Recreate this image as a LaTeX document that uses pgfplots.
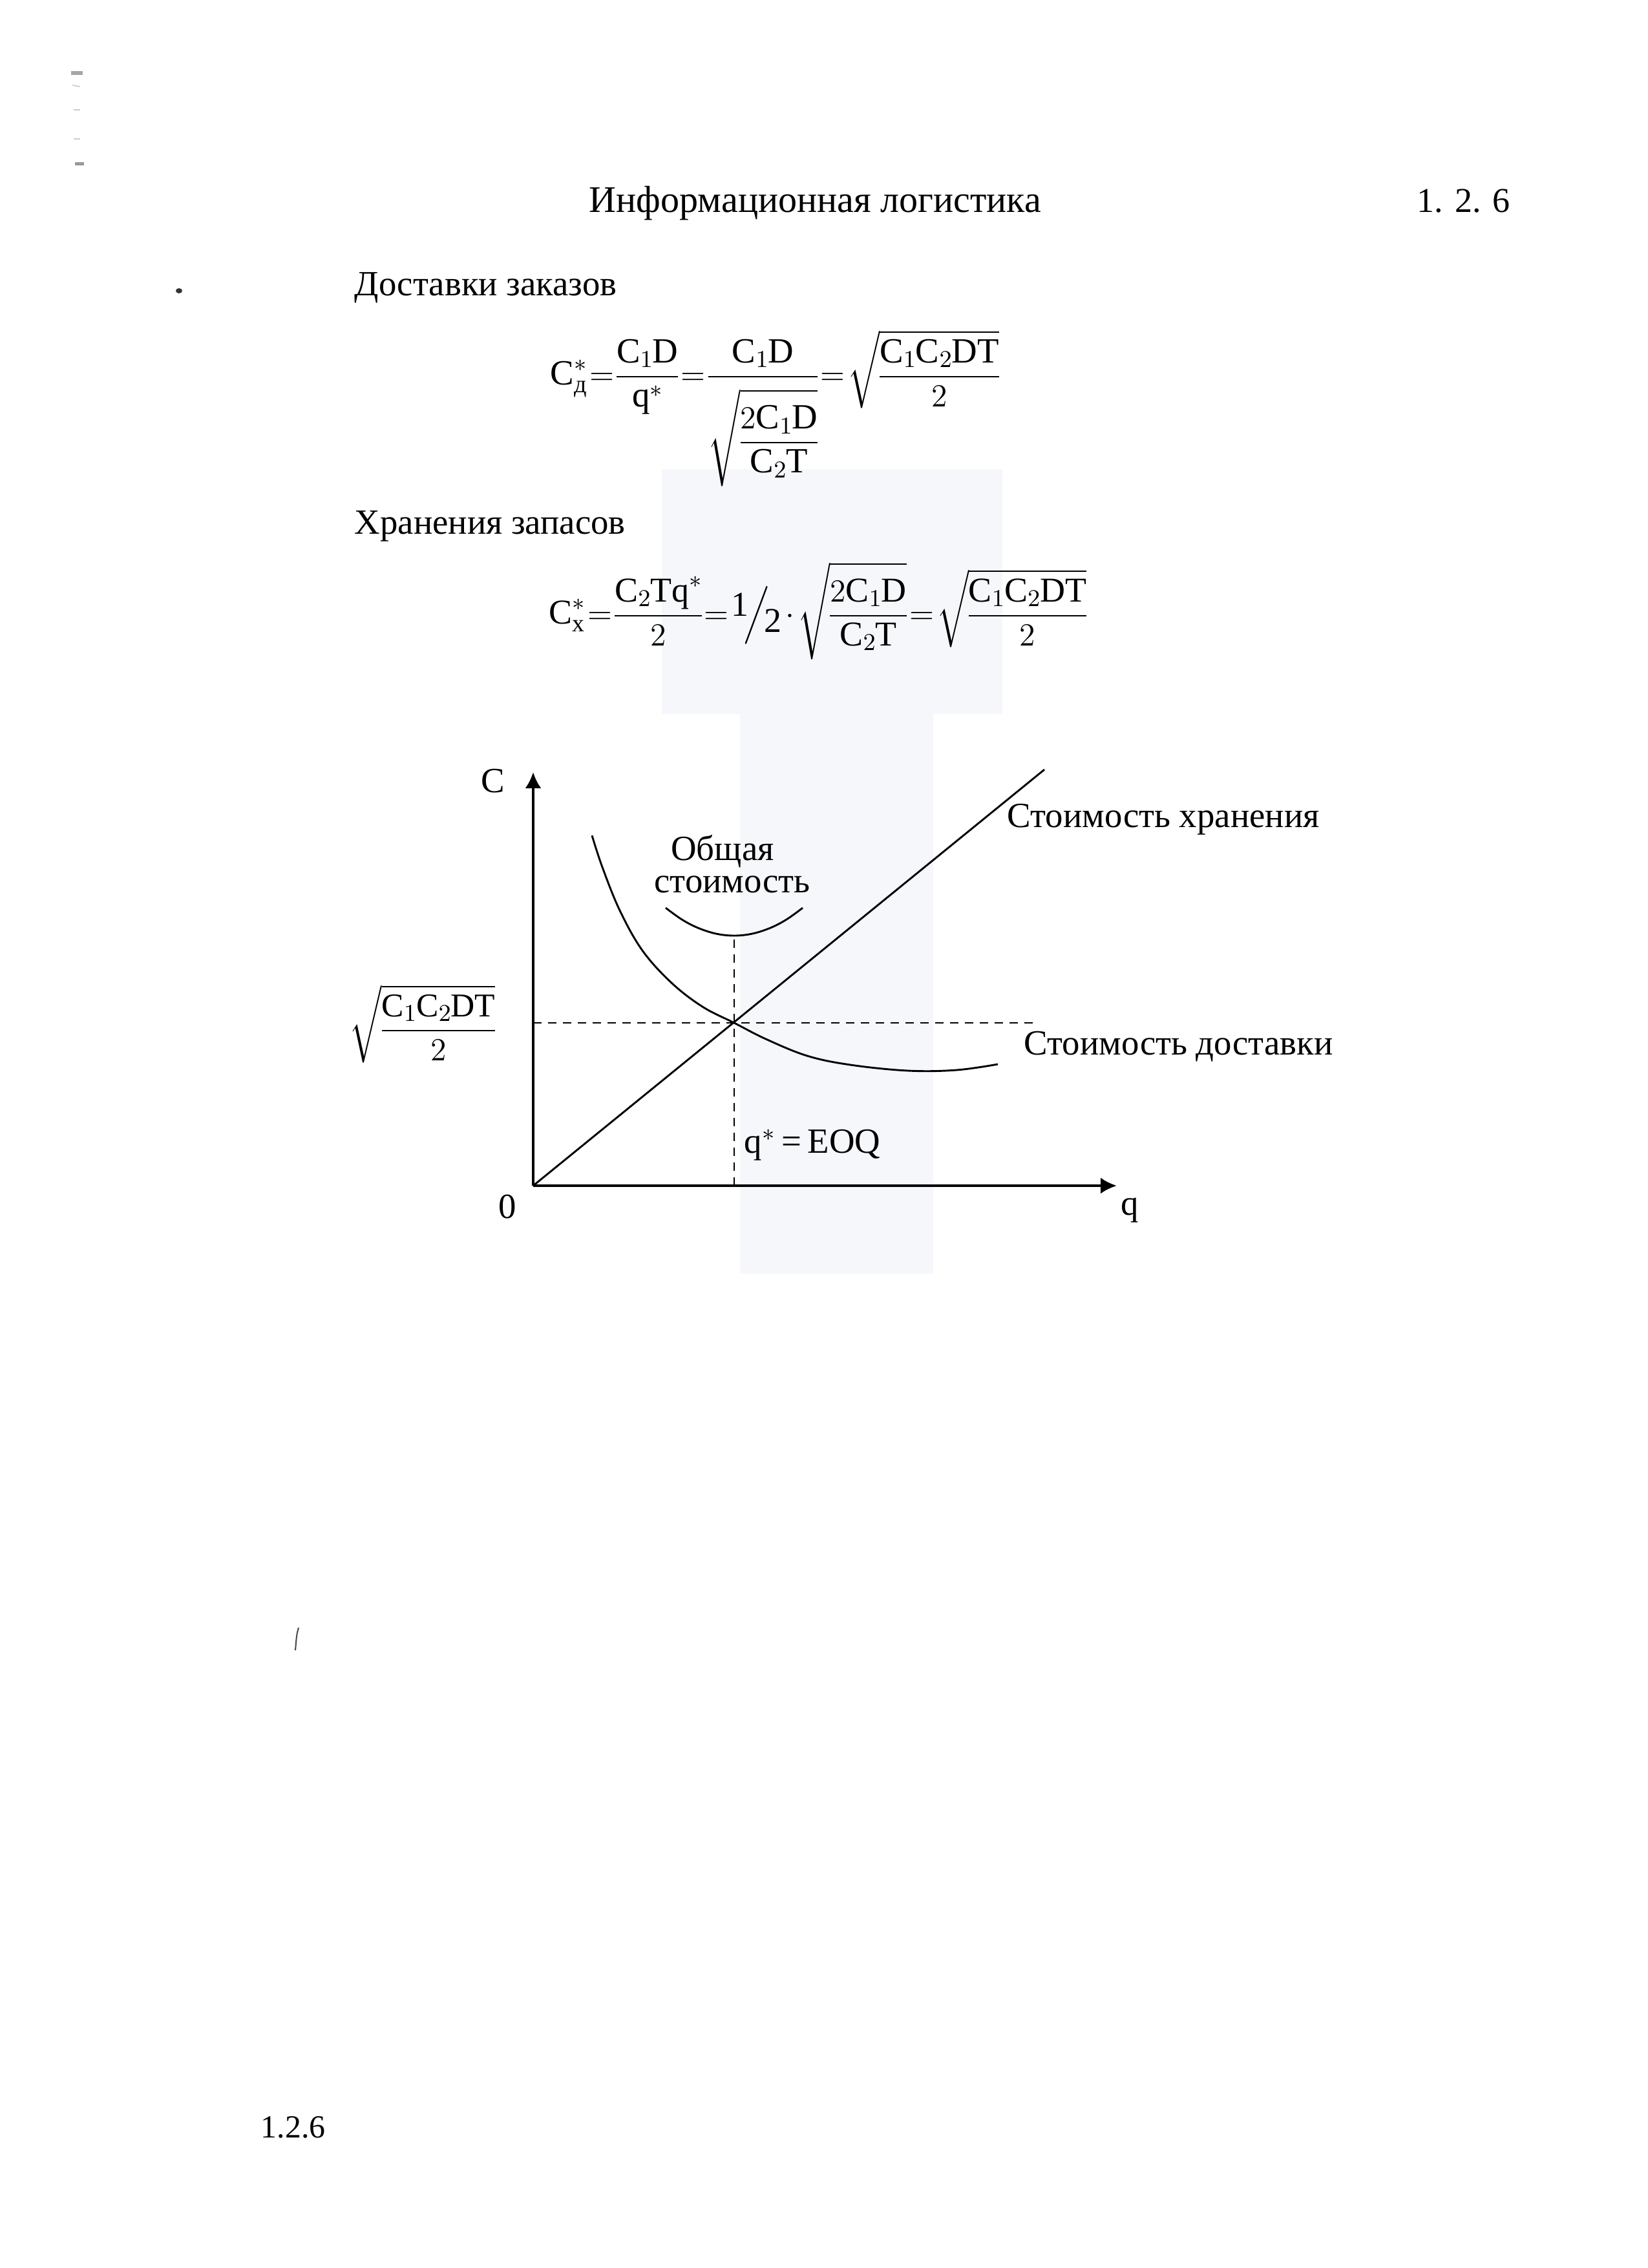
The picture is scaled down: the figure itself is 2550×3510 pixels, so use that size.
\documentclass[border=0pt]{standalone}
\usepackage{amsmath}
\usepackage{fontspec}
\setmainfont{Liberation Serif}
\usepackage{pgfplots}
\pgfplotsset{compat=1.18}
\usetikzlibrary{arrows.meta}
\definecolor{scanbg}{RGB}{246,247,251}
\newcommand{\R}[1]{\mathrm{#1}}
\newcommand{\fs}{\fontsize{13.2}{16}\selectfont}
\newcommand{\tight}{\thickmuskip=1.5mu\medmuskip=2mu\nulldelimiterspace=0pt\scriptspace=0pt}
\begin{document}
\begin{tikzpicture}[x=0.0846667mm, y=-0.0846667mm]
\path[fill=white] (0,0) rectangle (2550,3510);
% faint scan shading
\fill[scanbg] (1024,726) rectangle (1551,1105);
\fill[scanbg] (1145,1105) rectangle (1444,1971);
% scan marks
\fill[gray!70] (110,110) rectangle (128,116);
\draw[gray!40, line width=0.4pt] (112,132) -- (124,134);
\draw[gray!40, line width=0.4pt] (114,170) -- (124,170);
\draw[gray!40, line width=0.4pt] (114,215) -- (124,215);
\fill[gray!80] (116,251) rectangle (130,256);
\fill[black!80] (277,450) ellipse (5 and 4);
\draw[black!70, line width=0.5pt] (462,2519) .. controls (459,2530) .. (457,2554);
% header
\node[anchor=base west, inner sep=0, font=\fontsize{14}{17}\selectfont] at (911,328) {Информационная логистика};
\node[anchor=base west, inner sep=0, font=\fontsize{13}{16}\selectfont] at (2192,328) {1. 2. 6};
\node[anchor=base west, inner sep=0, font=\fs] at (548,457) {Доставки заказов};
\node[anchor=base west, inner sep=0, font=\fs] at (548,826) {Хранения запасов};
% formula 1
\node[anchor=base west, inner sep=0, font=\fs] at (851,595) {$\tight\displaystyle
 \R{C}^{*}_{\text{д}}=\frac{\R{C}_{1}\R{D}}{\R{q}^{*}}=\frac{\R{C}_{1}\R{D}}{\raisebox{-3pt}[\height][\depth]{$\tight\displaystyle\sqrt{\frac{2\R{C}_{1}\R{D}}{\R{C}_{2}\R{T}}}$}}=\sqrt{\frac{\R{C}_{1}\R{C}_{2}\R{DT}}{2}}$};
% formula 2
\node[anchor=base west, inner sep=0, font=\fontsize{13}{16}\selectfont] at (849,965) {$\tight\displaystyle
 \R{C}^{*}_{\text{х}}=\frac{\R{C}_{2}\R{Tq}^{*}}{2}=\mbox{\raisebox{0.45ex}{1}}\!\Big/\!\mbox{\raisebox{-0.55ex}{2}}\cdot\sqrt{\frac{2\R{C}_{1}\R{D}}{\R{C}_{2}\R{T}}}=\sqrt{\frac{\R{C}_{1}\R{C}_{2}\R{DT}}{2}}$};
% chart
\coordinate (O) at (825,1835);
\begin{axis}[
  at={(O)}, anchor=south west,
  x=0.0846667mm, y=0.0846667mm,
  xmin=0, xmax=903, ymin=0, ymax=640,
  axis lines=left,
  axis line style={line width=0.95pt, -{Latex[length=2.1mm,width=2.1mm]}},
  xtick=\empty, ytick=\empty,
  clip=false,
]
\addplot[black, line width=0.7pt] coordinates {(0,0) (791,644)};
\addplot[black, line width=0.7pt, smooth, tension=0.6] coordinates {
 (91,542) (107,493) (134,426) (169,364) (214,314) (262,277) (311,252)
 (360,227) (424,201) (491,187) (580,178) (655,179) (719,188)};
\addplot[black, line width=0.7pt, smooth, tension=0.6] coordinates {
 (205,430) (230,412) (255,399) (283,390) (311,387) (339,390) (367,399) (392,412) (417,430)};
\addplot[black, line width=0.6pt, dash pattern=on 1.1mm off 0.85mm] coordinates {(0,252) (779,252)};
\addplot[black, line width=0.6pt, dash pattern=on 1.1mm off 0.85mm] coordinates {(311,0) (311,387)};
\end{axis}
% chart labels
\node[anchor=base west, inner sep=0, font=\fs] at (744,1226) {C};
\node[anchor=base west, inner sep=0, font=\fs] at (771,1885) {0};
\node[anchor=base west, inner sep=0, font=\fs] at (1734,1880) {q};
\node[anchor=base, inner sep=0, font=\fs] at (1118,1331) {Общая};
\node[anchor=base, inner sep=0, font=\fs] at (1133,1381) {стоимость};
\node[anchor=base west, inner sep=0, font=\fs] at (1558,1280) {Стоимость хранения};
\node[anchor=base west, inner sep=0, font=\fs] at (1584,1632) {Стоимость доставки};
\node[anchor=base west, inner sep=0, font=\fs] at (1151,1784) {q$^{*}$\,=\,EOQ};
\node[anchor=base west, inner sep=0, font=\fontsize{12.4}{15}\selectfont] at (540,1607) {$\tight\displaystyle\sqrt{\frac{\R{C}_{1}\R{C}_{2}\R{DT}}{2}}$};
% footer
\node[anchor=base west, inner sep=0, font=\fontsize{12}{14}\selectfont] at (403,3308) {1.2.6};
\end{tikzpicture}
\end{document}
